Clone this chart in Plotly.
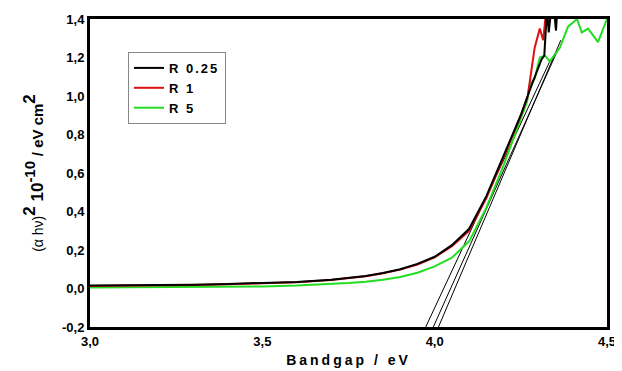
import plotly.graph_objects as go

# R 0.25 (black)
e_black = [3.0, 3.1, 3.2, 3.3, 3.4, 3.5, 3.6, 3.7, 3.75, 3.8, 3.85, 3.9, 3.95, 4.0, 4.05,
           4.1, 4.15, 4.2, 4.25, 4.28, 4.3, 4.31, 4.318, 4.326, 4.331, 4.338, 4.346, 4.352, 4.356, 4.36]
v_black = [0.015, 0.016, 0.018, 0.02, 0.024, 0.028, 0.034, 0.045, 0.054, 0.065, 0.08, 0.1, 0.128,
           0.165, 0.225, 0.31, 0.48, 0.69, 0.9, 1.05, 1.15, 1.19, 1.21, 1.45, 1.33, 1.45, 1.45, 1.34, 1.45, 1.45]

# R 1 (red)
e_red = [3.0, 3.1, 3.2, 3.3, 3.4, 3.5, 3.6, 3.7, 3.75, 3.8, 3.85, 3.9, 3.95, 4.0, 4.05,
         4.1, 4.15, 4.2, 4.25, 4.27, 4.29, 4.305, 4.315, 4.322, 4.33]
v_red = [0.013, 0.014, 0.016, 0.018, 0.022, 0.027, 0.033, 0.044, 0.053, 0.064, 0.079, 0.098, 0.125,
         0.162, 0.22, 0.3, 0.47, 0.68, 0.9, 1.0, 1.25, 1.35, 1.29, 1.42, 1.45]

# R 5 (green)
e_green = [3.0, 3.1, 3.2, 3.3, 3.4, 3.5, 3.6, 3.7, 3.75, 3.8, 3.85, 3.9, 3.95, 4.0, 4.05,
           4.1, 4.15, 4.2, 4.25, 4.268, 4.276, 4.29, 4.305, 4.32, 4.334, 4.363, 4.387, 4.413,
           4.427, 4.445, 4.474, 4.5]
v_green = [0.005, 0.006, 0.007, 0.008, 0.009, 0.011, 0.015, 0.022, 0.028, 0.035, 0.045, 0.06, 0.082,
           0.115, 0.16, 0.245, 0.42, 0.64, 0.88, 0.97, 1.06, 1.09, 1.2, 1.21, 1.18, 1.25, 1.36, 1.4,
           1.33, 1.35, 1.28, 1.4]

# tangent (linear-fit) lines: start and end points
fit_e = [[3.974, 4.334], [3.996, 4.355], [4.011, 4.366]]
fit_v = [[-0.2, 1.18], [-0.2, 1.23], [-0.2, 1.29]]

x_ticks = [3.0, 3.5, 4.0, 4.5]
y_ticks = [-0.2, 0.0, 0.2, 0.4, 0.6, 0.8, 1.0, 1.2, 1.4]
series_names = ["R 0.25", "R 1", "R 5"]

FAM = "Liberation Sans, Arial, sans-serif"


def leg(name):
    return "<b><span style='letter-spacing:2px'>%s</span></b>" % name


fig = go.Figure()
for fe, fv in zip(fit_e, fit_v):
    fig.add_trace(go.Scatter(x=fe, y=fv, mode="lines", line=dict(color="black", width=1),
                             showlegend=False, hoverinfo="skip"))
fig.add_trace(go.Scatter(x=e_green, y=v_green, mode="lines", name=leg(series_names[2]),
                         line=dict(color="#22dd22", width=2)))
fig.add_trace(go.Scatter(x=e_red, y=v_red, mode="lines", name=leg(series_names[1]),
                         line=dict(color="#dd1111", width=2)))
fig.add_trace(go.Scatter(x=e_black, y=v_black, mode="lines", name=leg(series_names[0]),
                         line=dict(color="black", width=2)))

# page body has an 8px default margin, so margins are offset by 8px
fig.update_layout(
    width=622, height=371,
    margin=dict(l=82, r=23, t=11, b=52, autoexpand=False),
    paper_bgcolor="white", plot_bgcolor="white",
    separators=",.",
    font=dict(family=FAM, size=13, color="black"),
    legend=dict(x=0.0735, y=0.893, xanchor="left", yanchor="top",
                bordercolor="#888888", borderwidth=1, bgcolor="white",
                traceorder="reversed", tracegroupgap=0,
                font=dict(family=FAM, size=13, color="black")),
    showlegend=True,
)
fig.update_xaxes(
    range=[3.0, 4.5], tickvals=x_ticks,
    ticktext=["<b>%s</b>" % f"{t:.1f}".replace(".", ",") for t in x_ticks],
    showgrid=False, zeroline=False, ticks="", automargin=False,
    showline=True, linecolor="black", linewidth=3, mirror=True,
    tickfont=dict(family=FAM, size=13, color="black"),
    title=dict(text="<b><span style='letter-spacing:3px'>Bandgap / eV</span></b>", standoff=8,
               font=dict(family=FAM, size=14, color="black")),
)
fig.update_yaxes(
    range=[-0.2, 1.4], tickvals=y_ticks,
    ticktext=["<b>%s</b>" % f"{t:.1f}".replace(".", ",") for t in y_ticks],
    showgrid=False, zeroline=False, ticks="", automargin=False,
    showline=True, linecolor="black", linewidth=3, mirror=True,
    tickfont=dict(family=FAM, size=13, color="black"),
    title=dict(text="<span style='font-size:14px'>(α hν)</span>"
                    "<b><sup><span style='font-size:17px'>2</span></sup> 10"
                    "<sup><span style='font-size:15px'>-10</span></sup> "
                    "<span style='font-size:15px'>/ eV cm</span>"
                    "<sup><span style='font-size:17px'>2</span></sup></b>",
               standoff=15,
               font=dict(family=FAM, size=17, color="black")),
)

fig.write_html("out.html")
